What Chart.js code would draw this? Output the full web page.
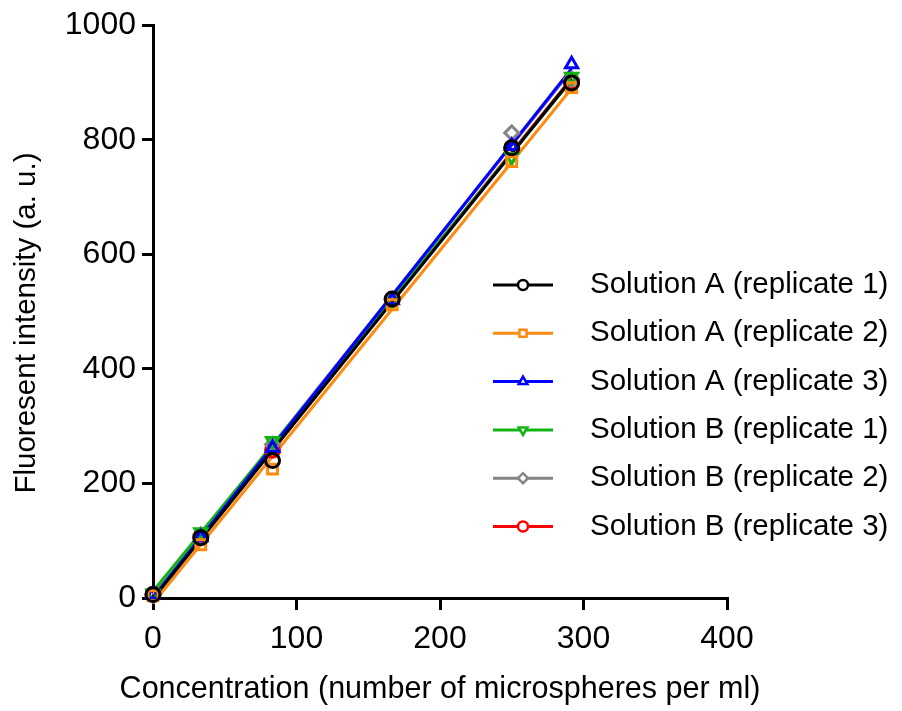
<!DOCTYPE html>
<html lang="en">
<head>
  <meta charset="UTF-8">
  <title>Fluorescent intensity vs concentration</title>
  <script src="https://cdn.jsdelivr.net/npm/chart.js"></script>
  <style>
    html, body { margin: 0; padding: 0; background: #fff; }
    #wrap { width: 902px; height: 711px; }
  </style>
</head>
<body>
  <div id="wrap"><canvas id="calChart" width="902" height="711"></canvas></div>

  <script>
    // concentration (number of microspheres per ml)
    const concentration = [0, 33.3, 83.3, 166.7, 250, 291.7];

    // fluorescent intensity (a. u.) per replicate
    const solA1 = [6, 105, 240, 522, 786, 899];
    const solA2 = [4, 93, 225, 512, 762, 891];
    const solA3 = [6, 106, 262, 520, 789, 932];
    const solB1 = [8, 115, 274, 518, 770, 910];
    const solB2 = [5, 110, 268, 522, 812, 906];
    const solB3 = [6, 107, 258, 521, 786, 902];

    const seriesNames = [
      'Solution A (replicate 1)',
      'Solution A (replicate 2)',
      'Solution A (replicate 3)',
      'Solution B (replicate 1)',
      'Solution B (replicate 2)',
      'Solution B (replicate 3)'
    ];

    const xTicks = [0, 100, 200, 300, 400];
    const yTicks = [0, 200, 400, 600, 800, 1000];

    const xTitle = 'Concentration (number of microspheres per ml)';
    const yTitle = 'Fluoresent intensity (a. u.)';

    const FONT = "Arial, 'Liberation Sans', sans-serif";

    const styles = [
      { color: '#000000', point: 'circle', rot: 0 },
      { color: '#ff8a12', point: 'rect', rot: 0 },
      { color: '#0000ff', point: 'triangle', rot: 0 },
      { color: '#12b412', point: 'triangle', rot: 180 },
      { color: '#858585', point: 'rectRot', rot: 0 },
      { color: '#ff0000', point: 'circle', rot: 0 }
    ];

    const values = [solA1, solA2, solA3, solB1, solB2, solB3];

    // straight-line least squares fit through the replicate points
    function linFit(xs, ys) {
      const n = xs.length;
      const mx = xs.reduce((a, b) => a + b, 0) / n;
      const my = ys.reduce((a, b) => a + b, 0) / n;
      let sxy = 0, sxx = 0;
      for (let i = 0; i < n; i++) {
        sxy += (xs[i] - mx) * (ys[i] - my);
        sxx += (xs[i] - mx) * (xs[i] - mx);
      }
      const k = sxy / sxx;
      return { k, b: my - k * mx };
    }

    const pointSets = values.map((vals, i) => ({
      label: seriesNames[i],
      data: concentration.map((c, j) => ({ x: c, y: vals[j] })),
      showLine: false,
      borderColor: styles[i].color,
      pointStyle: styles[i].point,
      rotation: styles[i].rot,
      pointRadius: 7,
      pointBorderWidth: 3,
      pointBorderColor: styles[i].color,
      pointBackgroundColor: 'rgba(0,0,0,0)',
      clip: false,
      order: 0
    }));

    const xFirst = concentration[0];
    const xLast = concentration[concentration.length - 1];
    const fitSets = values.map((vals, i) => {
      const f = linFit(concentration, vals);
      return {
        label: seriesNames[i] + ' fit',
        data: [{ x: xFirst, y: f.k * xFirst + f.b }, { x: xLast, y: f.k * xLast + f.b }],
        showLine: true,
        borderColor: styles[i].color,
        borderWidth: 3,
        pointRadius: 0,
        clip: false,
        order: 1
      };
    });

    // legend inside the plot + axis titles (the built-in x title gets squeezed to the axis width)
    const extras = {
      id: 'extras',
      afterDraw(chart) {
        const ctx = chart.ctx;
        const area = chart.chartArea;
        const x0 = 493, x1 = 553, tx = 590, y0 = 285, gap = 48.3;
        ctx.save();
        pointSets.forEach((ds, i) => {
          const y = y0 + i * gap;
          ctx.strokeStyle = ds.borderColor;
          ctx.lineWidth = 3;
          ctx.beginPath();
          ctx.moveTo(x0, y);
          ctx.lineTo(x1, y);
          ctx.stroke();
          ctx.fillStyle = '#fff';
          ctx.lineWidth = 2.5;
          Chart.helpers.drawPoint(ctx, {
            pointStyle: ds.pointStyle,
            rotation: ds.rotation,
            radius: 5,
            borderWidth: 2.5
          }, (x0 + x1) / 2, y);
          ctx.fillStyle = '#000';
          ctx.font = '29.5px ' + FONT;
          ctx.textBaseline = 'middle';
          ctx.textAlign = 'left';
          ctx.fillText(ds.label, tx, y);
        });

        ctx.fillStyle = '#000';
        ctx.textAlign = 'center';
        ctx.textBaseline = 'middle';
        ctx.font = '30.5px ' + FONT;
        ctx.fillText(xTitle, (area.left + area.right) / 2, 690);

        ctx.translate(27, 323);
        ctx.rotate(-Math.PI / 2);
        ctx.font = '29.5px ' + FONT;
        ctx.fillText(yTitle, 0, 0);
        ctx.restore();
      }
    };

    new Chart(document.getElementById('calChart'), {
      type: 'scatter',
      data: { datasets: pointSets.concat(fitSets) },
      options: {
        responsive: false,
        animation: false,
        layout: { padding: { top: 24, right: 175, left: 0, bottom: 0 } },
        plugins: {
          legend: { display: false },
          tooltip: { enabled: false }
        },
        scales: {
          x: {
            type: 'linear',
            min: 0,
            max: 400,
            afterBuildTicks: (scale) => { scale.ticks = xTicks.map(v => ({ value: v })); },
            afterFit: (scale) => { scale.height = 711 - 598; },
            ticks: { color: '#000', font: { family: FONT, size: 32 }, padding: 10, callback: (v) => String(v) },
            grid: { drawOnChartArea: false, drawTicks: true, tickLength: 12, color: '#000', lineWidth: 3 },
            border: { display: true, color: '#000', width: 3 }
          },
          y: {
            type: 'linear',
            min: 0,
            max: 1000,
            afterBuildTicks: (scale) => { scale.ticks = yTicks.map(v => ({ value: v })); },
            afterFit: (scale) => { scale.width = 153; },
            ticks: { color: '#000', font: { family: FONT, size: 32 }, padding: 6, callback: (v) => String(v) },
            grid: { drawOnChartArea: false, drawTicks: true, tickLength: 11, color: '#000', lineWidth: 3 },
            border: { display: true, color: '#000', width: 3 }
          }
        }
      },
      plugins: [extras]
    });
  </script>
</body>
</html>
